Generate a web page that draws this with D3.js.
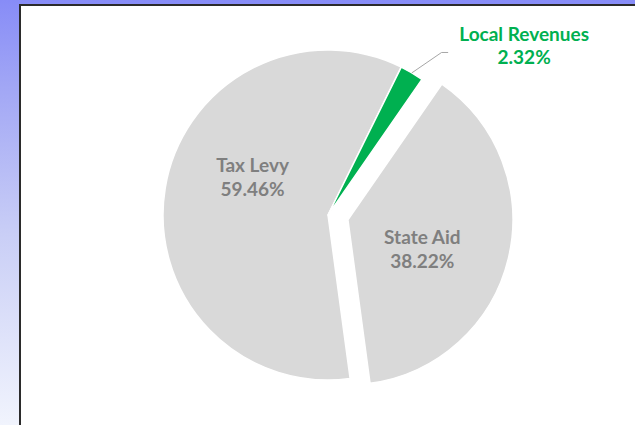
<!DOCTYPE html>
<html>
<head>
<meta charset="utf-8">
<script src="https://cdn.jsdelivr.net/npm/d3@7"></script>
<style>
  html, body { margin: 0; padding: 0; background: #fff; }
  svg { display: block; }
</style>
</head>
<body>
<svg id="chart" width="635" height="425"></svg>
<script>
// ---- data ----
const categories = ["Tax Levy", "Local Revenues", "State Aid"];
const values = [59.46, 2.32, 38.22];
const valueLabels = ["59.46%", "2.32%", "38.22%"];

// ---- style / layout ----
const W = 635, H = 425;
const sliceColors = { "Tax Levy": "#d9d9d9", "Local Revenues": "#00b050", "State Aid": "#d9d9d9" };
const labelColors = { "Tax Levy": "#7f7f7f", "Local Revenues": "#00b050", "State Aid": "#7f7f7f" };
const cx = 328, cy = 215, R = 165;
const startDeg = 172.3;
const explode = { "State Aid": 20.5 };
// label placement: angle shift from slice mid-angle (deg) and radius from slice centre
const labelPlace = {
  "Tax Levy": { shift: 17.4, r: 84.5 },
  "State Aid": { shift: 8.0, r: 80 },
  "Local Revenues": { shift: 18.7, r: 259 }
};

const svg = d3.select("#chart");
const defs = svg.append("defs");
const grad = defs.append("linearGradient").attr("id", "bg")
  .attr("x1", 0).attr("y1", 0).attr("x2", 0).attr("y2", 1);
grad.append("stop").attr("offset", 0).attr("stop-color", "#878cf7");
grad.append("stop").attr("offset", 0.2).attr("stop-color", "#a1a6f5");
grad.append("stop").attr("offset", 0.55).attr("stop-color", "#c9cef6");
grad.append("stop").attr("offset", 1).attr("stop-color", "#f1f4fd");

svg.append("rect").attr("width", W).attr("height", H).attr("fill", "url(#bg)");
svg.append("rect").attr("x", 19).attr("y", 4).attr("width", W).attr("height", H)
  .attr("fill", "#2b2b2b");
svg.append("rect").attr("x", 21).attr("y", 6).attr("width", W).attr("height", H)
  .attr("fill", "#ffffff");

const toRad = d => d * Math.PI / 180;
const pie = d3.pie().sort(null).value(d => d.value)
  .startAngle(toRad(startDeg)).endAngle(toRad(startDeg) + 2 * Math.PI);
const data = categories.map((c, i) => ({ cat: c, value: values[i], label: valueLabels[i] }));
const arcs = pie(data);
const arc = d3.arc().innerRadius(0).outerRadius(R);

const polar = (a, r) => [Math.sin(a) * r, -Math.cos(a) * r];
const mid = d => (d.startAngle + d.endAngle) / 2;

const g = svg.append("g").attr("transform", `translate(${cx},${cy})`);

arcs.forEach(d => {
  const e = explode[d.data.cat] || 0;
  const [ox, oy] = polar(mid(d), e);
  d.ox = ox; d.oy = oy;
});

g.selectAll("path.slice").data(arcs).join("path")
  .attr("class", "slice")
  .attr("transform", d => `translate(${d.ox},${d.oy})`)
  .attr("d", arc)
  .attr("fill", d => sliceColors[d.data.cat])
  .attr("stroke", "#ffffff")
  .attr("stroke-width", 1.5)
  .attr("stroke-linejoin", "round");

// labels
const fontFamily = "Lato, 'Open Sans', sans-serif";
arcs.forEach(d => {
  const p = labelPlace[d.data.cat];
  const [lx, ly] = polar(mid(d) + toRad(p.shift), p.r);
  const ax = d.ox + lx, ay = d.oy + ly;
  const t = g.append("text")
    .attr("text-anchor", "middle")
    .attr("font-family", fontFamily)
    .attr("font-weight", 700)
    .attr("font-size", 19)
    .attr("fill", labelColors[d.data.cat]);
  t.append("tspan").attr("x", ax).attr("y", ay - 5).text(d.data.cat);
  t.append("tspan").attr("x", ax).attr("y", ay + 18.5).text(d.data.label);

  if (d.data.cat === "Local Revenues") {
    const [sx, sy] = polar(mid(d), R);
    const endX = ax - 76;
    const lineY = ay + 6.6;
    const pts = [[sx, sy], [endX - 6.6, lineY], [endX, lineY]];
    g.append("path")
      .attr("d", d3.line()(pts))
      .attr("fill", "none")
      .attr("stroke", "#a6a6a6")
      .attr("stroke-width", 1);
  }
});
</script>
</body>
</html>
